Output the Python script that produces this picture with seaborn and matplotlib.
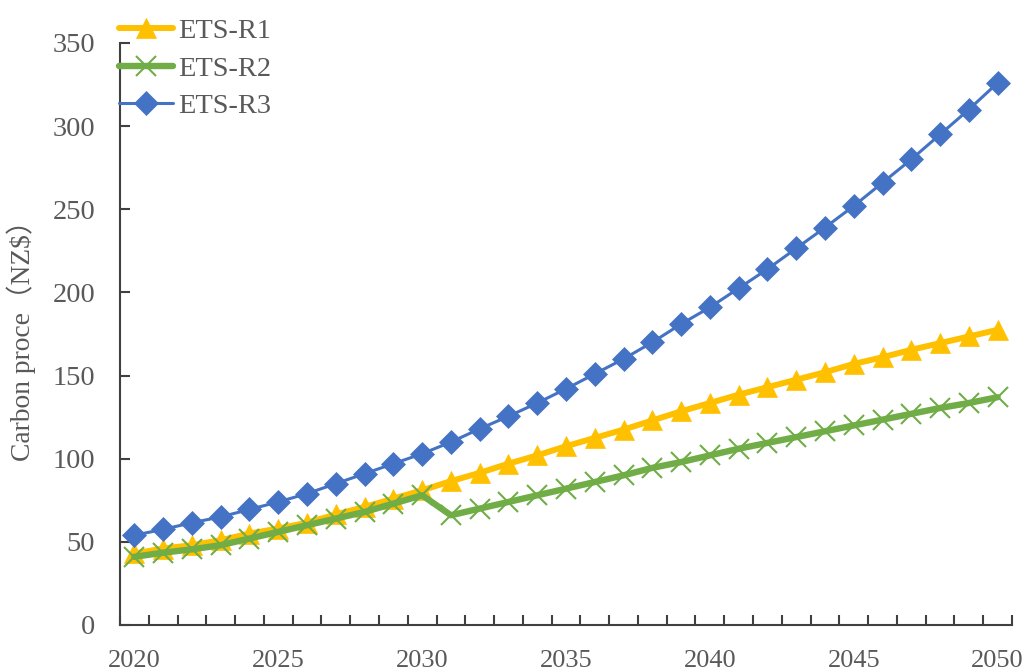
import numpy as np
import pandas as pd
import matplotlib
matplotlib.use("Agg")
import matplotlib.pyplot as plt
import seaborn as sns

# Carbon price trajectories (NZ$) by scenario, 2020-2050
years = list(range(2020, 2051))
ets_r1 = [43, 46, 48, 51, 55, 58, 61.5, 66.5, 71, 76, 81, 86.5, 91.5, 97, 102,
          107.5, 112.5, 117.5, 123, 128.5, 133.5, 138.5, 143, 147.5, 152, 157,
          161, 165.5, 169.5, 173.5, 177.5]
ets_r2 = [41, 43.5, 45.5, 48, 52, 56, 60, 64, 68, 73, 78, 66, 70, 74, 78, 82,
          86, 90, 94.5, 98, 102, 106, 109.5, 113, 116.5, 120, 123.5, 127, 130.5,
          133.5, 137]
ets_r3 = [54, 57.5, 61.5, 65, 69.5, 74, 79, 85, 91, 97, 103, 110, 118, 125.5,
          133.5, 142, 151, 160, 170, 181, 191, 202.5, 214, 226.5, 239, 252, 266,
          280, 295, 310, 326]
series_names = ["ETS-R1", "ETS-R2", "ETS-R3"]
y_label = "Carbon proce（NZ$）"

df = pd.DataFrame({
    "year": years * 3,
    "price": ets_r1 + ets_r2 + ets_r3,
    "scenario": sum([[n] * len(years) for n in series_names], []),
})

sns.set_theme(style="white")
plt.rcParams["font.family"] = ["Liberation Serif", "Noto Sans CJK SC", "DejaVu Sans"]

styles = {
    "ETS-R1": dict(color="#FFC000", lw=4.3, marker="^", ms=14, mec="#FFC000", mew=0.5),
    "ETS-R2": dict(color="#70AD47", lw=4.6, marker="x", ms=14, mec="#70AD47", mew=1.5),
    "ETS-R3": dict(color="#4472C4", lw=2.2, marker="D", ms=12.5, mec="#4472C4", mew=0.5),
}

fig = plt.figure(figsize=(10.27, 6.71), dpi=100)
ax = fig.add_axes([120 / 1027, 1 - 625 / 671, 892 / 1027, 582 / 671])

for name in series_names:
    st = styles[name]
    sns.lineplot(data=df[df["scenario"] == name], x="year", y="price", ax=ax,
                 label=name, color=st["color"], linewidth=st["lw"],
                 marker=st["marker"], markersize=st["ms"],
                 markeredgecolor=st["mec"], markeredgewidth=st["mew"],
                 markerfacecolor=st["color"])

ax.set_xlim(2019.5, 2050.5)
ax.set_ylim(0, 350)

axis_color = "#404040"
text_color = "#595959"
for side in ["top", "right"]:
    ax.spines[side].set_visible(False)
for side in ["left", "bottom"]:
    ax.spines[side].set_color(axis_color)
    ax.spines[side].set_linewidth(1.5)

ax.set_xticks(range(2020, 2051, 5))
ax.set_xticks(np.arange(2019.5, 2051, 1), minor=True)
ax.set_yticks(range(0, 351, 50))
ax.tick_params(axis="x", which="major", length=0, pad=18, labelsize=19,
               labelcolor=text_color)
ax.tick_params(axis="x", which="minor", direction="in", length=7, width=1.5,
               color=axis_color, bottom=True)
ax.tick_params(axis="y", which="major", direction="in", length=7, width=1.5,
               color=axis_color, pad=18, labelsize=20.5, labelcolor=text_color,
               left=True)

ax.set_xlabel("")
ax.set_ylabel(y_label, fontsize=19.8, color=text_color, labelpad=12)

leg = ax.legend(loc="upper left", bbox_to_anchor=(119 / 1027, 1 - 18 / 671),
                bbox_transform=fig.transFigure, frameon=False, fontsize=20.4,
                handlelength=1.9, handletextpad=0.2, labelspacing=0.42,
                borderpad=0, borderaxespad=0)
for t in leg.get_texts():
    t.set_color(text_color)

fig.savefig("out.png", dpi=100)
